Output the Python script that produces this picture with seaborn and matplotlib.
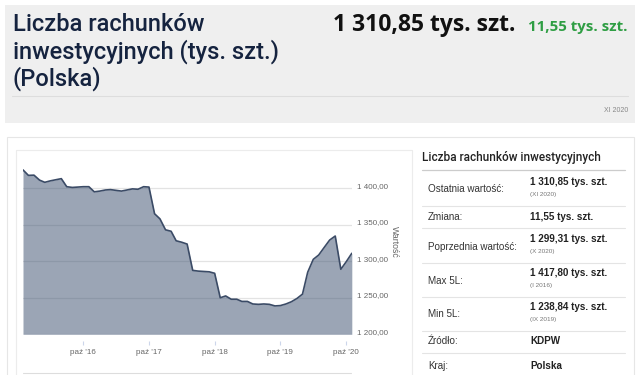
import matplotlib
matplotlib.use("Agg")
import matplotlib.pyplot as plt
import matplotlib.transforms as mtransforms
import seaborn as sns
import pandas as pd
import numpy as np
from matplotlib.patches import Rectangle

# ---------------- data ----------------
months = pd.date_range("2015-11-01", "2020-11-01", freq="MS")
values = [
    1425.0, 1417.5, 1417.8, 1411.0, 1408.0, 1410.0, 1411.5, 1413.0, 1402.0, 1401.0,
    1401.5, 1402.0, 1402.0, 1395.0, 1396.0, 1397.5, 1398.0, 1397.0, 1396.0, 1397.5,
    1399.0, 1398.5, 1402.0, 1401.5, 1365.0, 1358.0, 1343.0, 1341.0, 1328.0, 1326.0,
    1323.5, 1287.5, 1286.5, 1286.0, 1285.5, 1283.5, 1250.0, 1252.5, 1248.0, 1248.0,
    1245.0, 1245.0, 1241.5, 1241.0, 1241.5, 1241.0, 1238.84, 1239.3, 1241.5, 1244.5,
    1249.0, 1255.0, 1285.0, 1302.6, 1308.5, 1319.0, 1329.0, 1334.5, 1289.0, 1299.31,
    1310.85,
]
xtick_dates = ["2016-10-01", "2017-10-01", "2018-10-01", "2019-10-01", "2020-10-01"]
xtick_labels = ["paź '16", "paź '17", "paź '18", "paź '19", "paź '20"]
ytick_values = [1200, 1250, 1300, 1350, 1400]
ytick_labels = ["1 200,00", "1 250,00", "1 300,00", "1 350,00", "1 400,00"]

title_lines = ["Liczba rachunków", "inwestycyjnych (tys. szt.)", "(Polska)"]
last_value_text = "1 310,85 tys. szt."
change_text = "11,55 tys. szt."
period_text = "XI 2020"
axis_title = "Wartość"

table_title = "Liczba rachunków inwestycyjnych"
table_labels = ["Ostatnia wartość:", "Zmiana:", "Poprzednia wartość:", "Max 5L:",
                "Min 5L:", "Źródło:", "Kraj:"]
table_values = ["1 310,85 tys. szt.", "11,55 tys. szt.", "1 299,31 tys. szt.",
                "1 417,80 tys. szt.", "1 238,84 tys. szt.", "KDPW", "Polska"]
table_dates = ["(XI 2020)", "", "(X 2020)", "(I 2016)", "(IX 2019)", "", ""]

df = pd.DataFrame({"month": months, "value": values})

# ---------------- figure ----------------
sns.set_theme(style="white")
plt.rcParams["font.family"] = ["DejaVu Sans"]

W, H = 640, 375
fig = plt.figure(figsize=(W / 100, H / 100), dpi=100)
fig.patch.set_facecolor("white")

# overlay in pixel coordinates
ov = fig.add_axes([0, 0, 1, 1], zorder=0)
ov.set_xlim(0, W)
ov.set_ylim(H, 0)
ov.axis("off")

# header panel
ov.add_patch(Rectangle((5, 5), 630, 118, facecolor="#efefef", edgecolor="none"))
ov.plot([12, 628], [96, 96], color="#dddddd", lw=0.8)
title_col = "#15233f"
for i, line in enumerate(title_lines):
    ov.text(13, 31 + i * 27.5, line, fontsize=17, color=title_col, fontweight="medium",
            family="Roboto", va="baseline", ha="left")
ov.text(333, 31, last_value_text, fontsize=16.5, fontweight="bold", color="#111111",
        family="Open Sans", va="baseline", ha="left")
ov.text(628, 31, change_text, fontsize=10.8, fontweight="bold", color="#2f9e44",
        family="Open Sans", va="baseline", ha="right")
ov.text(628, 111, period_text, fontsize=5, color="#888888",
        family="Liberation Sans", va="center", ha="right")

# lower cards
ov.add_patch(Rectangle((7, 136.5), 627, 250, facecolor="white", edgecolor="#e6e6e6", lw=0.8))
ov.plot([16, 16], [150, 376], color="#ececec", lw=0.8)
ov.plot([16, 411.5], [150, 150], color="#ececec", lw=0.8)
ov.plot([411.5, 411.5], [150, 376], color="#ececec", lw=0.8)
ov.plot([23, 351], [373, 373], color="#dddddd", lw=0.8)

# table on the right
ov.text(422, 158, table_title, fontsize=8.5, fontweight="medium", color="#222222",
        family="Roboto", va="center", ha="left")
ov.plot([422, 625], [169.5, 169.5], color="#cccccc", lw=0.9)
label_y = [189, 217, 246.5, 280.5, 314, 341, 366]
value_y = [182, 217, 239.5, 273.5, 306.5, 341, 366]
date_y = [194.5, None, 251.5, 285, 319, None, None]
sep_y = [206, 227.5, 262.5, 296.5, 331, 352.5]
for lab, ly in zip(table_labels, label_y):
    ov.text(428, ly, lab, fontsize=7.1, color="#333333", family="Liberation Sans",
            va="center", ha="left")
for val, vy in zip(table_values, value_y):
    ov.text(530, vy, val, fontsize=7.1, fontweight="bold", color="#222222",
            family="Liberation Sans", va="center", ha="left")
for d, dy in zip(table_dates, date_y):
    if d:
        ov.text(530, dy, d, fontsize=4.6, color="#777777", family="Liberation Sans",
                va="center", ha="left")
for sy in sep_y:
    ov.plot([422, 625], [sy, sy], color="#e4e4e4", lw=0.8)

# ---------------- chart ----------------
x0, x1 = 23, 351.8
ybot = 334.3
px_per_unit = 0.7307
ymin, ymax = 1200, 1440
ax_h = (ymax - ymin) * px_per_unit
ax = fig.add_axes([x0 / W, (H - ybot) / H, (x1 - x0) / W, ax_h / H], zorder=1)
ax.set_facecolor("none")

line_col = "#3b4b66"
ax.fill_between(df["month"], df["value"], ymin, color="#3f5372", alpha=0.52,
                linewidth=0, zorder=2)
sns.lineplot(data=df, x="month", y="value", ax=ax, color=line_col, linewidth=1.2,
             zorder=3)

ax.set_xlim(months[0], months[-1])
ax.set_ylim(ymin, ymax)
ax.set_axisbelow(True)
ax.grid(axis="y", color="#e3e3e3", linewidth=0.9, zorder=0)
ax.grid(axis="x", visible=False)

ax.set_yticks(ytick_values)
ax.set_yticklabels(ytick_labels)
ax.yaxis.tick_right()
ax.tick_params(axis="y", length=0, pad=4, labelsize=5.8, labelcolor="#666666")
shift_up = mtransforms.ScaledTranslation(0, 3 / 100, fig.dpi_scale_trans)
for t in ax.get_yticklabels():
    t.set_family("Liberation Sans")
    t.set_transform(t.get_transform() + shift_up)

ax.set_xticks(pd.to_datetime(xtick_dates))
ax.set_xticklabels(xtick_labels)
ax.spines["bottom"].set_position(("outward", 4.5))
ax.tick_params(axis="x", length=3, width=0.8, color="#ccd6eb", pad=3,
               labelsize=5.8, labelcolor="#666666", direction="out", bottom=True)
for t in ax.get_xticklabels():
    t.set_family("Liberation Sans")

for s in ax.spines.values():
    s.set_visible(False)
ax.set_xlabel("")
ax.set_ylabel("")

ov.text(394, 242, axis_title, rotation=270, fontsize=6.3, color="#666666",
        family="Liberation Sans", va="center", ha="center")

fig.savefig("out.png", dpi=100)
